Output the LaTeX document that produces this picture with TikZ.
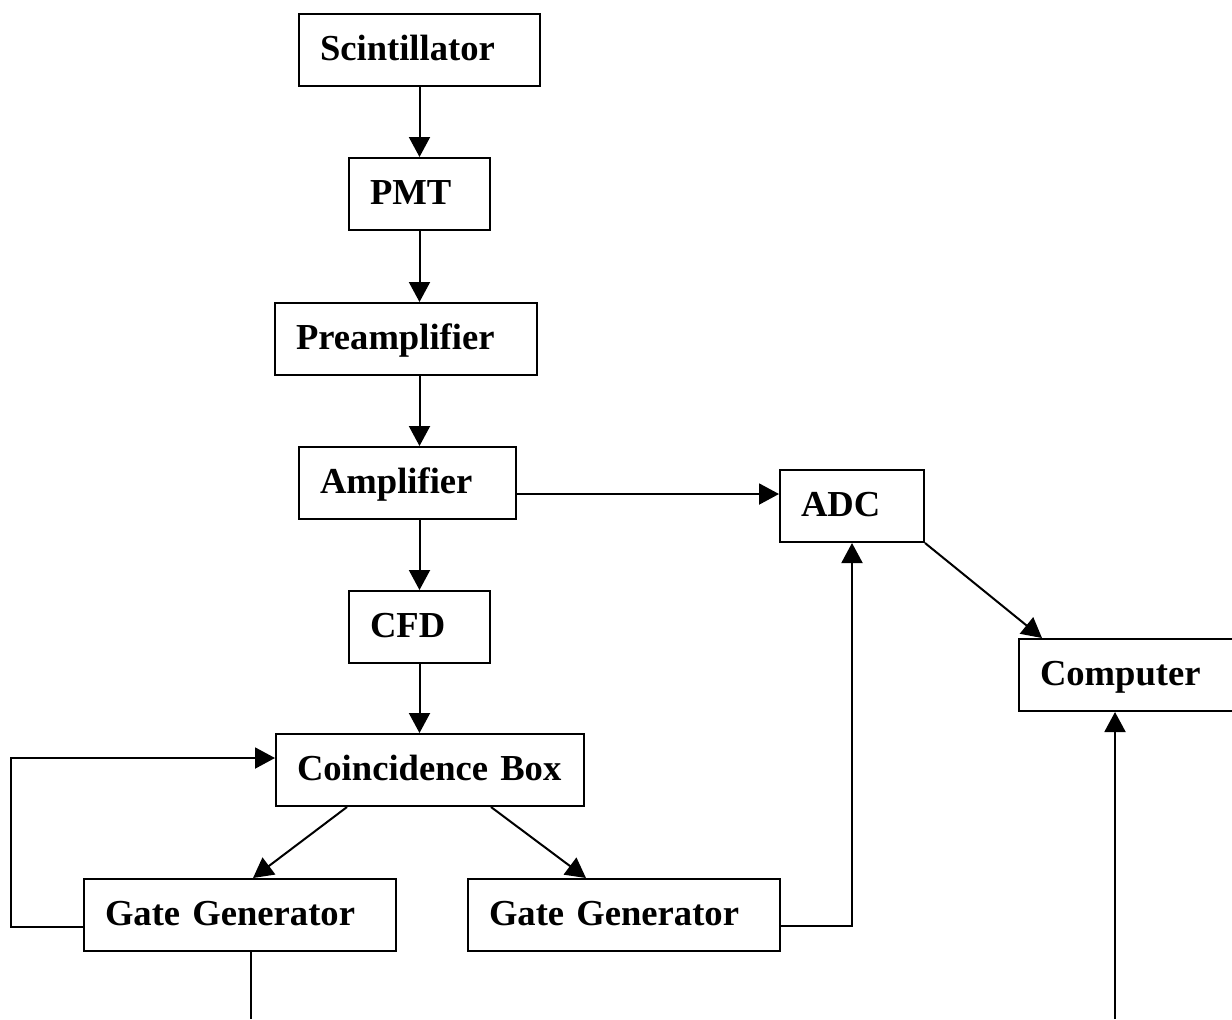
\documentclass[tikz,border=0pt]{standalone}
\usepackage{fontspec}
\setmainfont{Liberation Serif}
\usetikzlibrary{arrows.meta}

\begin{document}
\begin{tikzpicture}[x=0.5pt,y=-0.5pt,line width=1pt,>={Triangle[length=10pt,width=10.5pt]}]
  \tikzset{blk/.style={draw,anchor=north west,minimum height=36pt,inner xsep=10.5pt,text width=#1,align=left,
      text height=13pt,text depth=3pt,font=\fontsize{18.3}{22}\selectfont\bfseries}}
  \path[use as bounding box,clip] (0,0) rectangle (1232,1019);
  \node(scint)[blk=99.5pt] at (298,13) {Scintillator};
  \node(pmt)[blk=49.5pt] at (348,157) {PMT};
  \node(preamp)[blk=110pt] at (274,302) {Preamplifier};
  \node(amp)[blk=87.5pt] at (298,446) {Amplifier};
  \node(adc)[blk=51pt] at (779,469) {ADC};
  \node(cfd)[blk=49.5pt] at (348,590) {CFD};
  \node(comp)[blk=90pt] at (1018,638) {Computer};
  \node(coin)[blk=133pt] at (275,733) {\mbox{Coincidence Box}};
  \node(gatel)[blk=135pt] at (83,878) {Gate Generator};
  \node(gater)[blk=135pt] at (467,878) {Gate Generator};
  \coordinate(gl) at (251,1019);
  \coordinate(cm) at (1115,1019);
  % main chain
  \draw[->] (scint.south -| pmt) -- (pmt);
  \draw[->] (pmt) -- (preamp.north -| pmt);
  \draw[->] (preamp.south -| pmt) -- (amp.north -| pmt);
  \draw[->] (amp.south -| cfd) -- (cfd);
  \draw[->] (cfd) -- (coin.north -| cfd);
  \draw[->] ([yshift=-5.5pt]amp.east) -- ([yshift=-5.5pt]amp.east -| adc.west);
  \draw[->] (adc.south east) -- ([xshift=12pt]comp.north west);
  \draw[->] ([xshift=36pt]coin.south west) -- ([xshift=85pt]gatel.north west);
  \draw[->] ([xshift=108pt]coin.south west) -- ([xshift=59.5pt]gater.north west);
  % feedback lines
  \draw[->] ([yshift=-6pt]gatel.west) -- ++(-36pt,0) |- ([yshift=6pt]coin.west);
  \draw[->] ([yshift=-5.5pt]gater.east) -| (adc);
  \draw (gatel.south -| gl) -- (gl);
  \draw[->] (cm) -- (cm |- comp.south);
\end{tikzpicture}
\end{document}
